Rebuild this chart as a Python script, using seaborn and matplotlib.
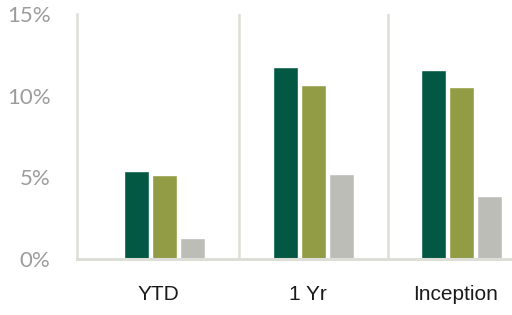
import matplotlib
matplotlib.use('Agg')
import matplotlib.pyplot as plt
import matplotlib.transforms as mtransforms
import seaborn as sns
import pandas as pd
from matplotlib.ticker import FuncFormatter

periods = ['YTD', '1 Yr', 'Inception']
series = ['Fund', 'Benchmark', 'Peer']
fund = [5.39, 11.76, 11.57]
benchmark = [5.14, 10.65, 10.53]
peer = [1.27, 5.20, 3.86]
colors = ['#035844', '#929c45', '#bdbdb8']

rows = []
for name, vals in zip(series, [fund, benchmark, peer]):
    for p, v in zip(periods, vals):
        rows.append({'period': p, 'series': name, 'value': v})
df = pd.DataFrame(rows)

sns.set_style('white')
plt.rcParams['font.family'] = ['Lato', 'DejaVu Sans']

fig = plt.figure(figsize=(5.12, 3.15), dpi=100)
ax = fig.add_axes([0.150, 0.178, 0.85, 0.778])

sns.barplot(data=df, x='period', y='value', hue='series', order=periods,
            hue_order=series, palette=colors, width=0.566, gap=0.107,
            saturation=1, legend=False, ax=ax)

line_c = '#deded8'
ax.set_xlim(-0.593, 2.337)
ax.set_ylim(0, 15)
ax.set_yticks([0, 5, 10, 15])
ax.yaxis.set_major_formatter(FuncFormatter(lambda v, _: f'{v:.0f}%'))
for s in ['top', 'right']:
    ax.spines[s].set_visible(False)
ax.spines['left'].set_color(line_c)
ax.spines['left'].set_linewidth(1.8)
ax.spines['bottom'].set_color(line_c)
ax.spines['bottom'].set_linewidth(2.2)
for xs in [0.5, 1.5]:
    ax.axvline(xs, color=line_c, lw=1.8, zorder=0)

ax.tick_params(axis='y', length=5, width=1.5, color=line_c, pad=14,
               labelsize=16, labelcolor='#9c9c9c')
ax.tick_params(axis='x', length=0, pad=19, labelsize=15, labelcolor='#1a1a1a')
shift = mtransforms.ScaledTranslation(-6 / 100, 0, fig.dpi_scale_trans)
for lab in ax.get_xticklabels():
    lab.set_family(['Liberation Sans', 'DejaVu Sans'])
    lab.set_transform(lab.get_transform() + shift)
ax.set_xlabel('')
ax.set_ylabel('')

fig.savefig('out.png', dpi=100)
